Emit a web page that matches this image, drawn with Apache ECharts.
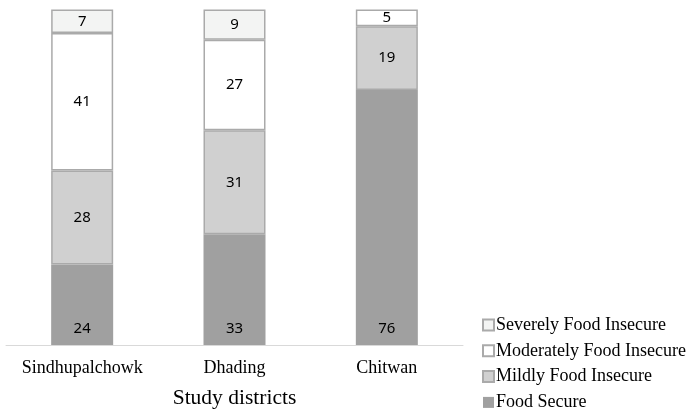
<!DOCTYPE html>
<html>
<head>
<meta charset="utf-8">
<script src="https://cdn.jsdelivr.net/npm/echarts@6/dist/echarts.min.js"></script>
<style>html,body{margin:0;padding:0;background:#fff}#c{width:687px;height:412px}</style>
</head>
<body>
<div id="c"></div>
<script>
const categories = ['Sindhupalchowk', 'Dhading', 'Chitwan'];
const foodSecure = [24, 33, 76];
const mildly = [28, 31, 19];
const moderately = [41, 27, 5];
const severely = [7, 9, 0];
const seriesNames = ['Food Secure', 'Mildly Food Insecure', 'Moderately Food Insecure', 'Severely Food Insecure'];

const chart = echarts.init(document.getElementById('c'));
const lbl = {
  show: true, position: 'inside', color: '#000',
  fontFamily: 'Noto Sans', fontSize: 15,
  formatter: p => (p.value ? p.value : '')
};
const clean = a => a.map(v => (v ? v : null));
chart.setOption({
  animation: false,
  grid: { left: 6, right: 224, top: 9.5, bottom: 67, containLabel: false, outerBoundsMode: 'none' },
  xAxis: {
    type: 'category', data: categories,
    axisLine: { lineStyle: { color: '#d9d9d9', width: 1 } },
    axisTick: { show: false },
    axisLabel: { color: '#000', fontFamily: 'Liberation Serif', fontSize: 18, margin: 14, interval: 0 },
    name: 'Study districts', nameLocation: 'middle', nameGap: 42,
    nameTextStyle: { color: '#000', fontFamily: 'Liberation Serif', fontSize: 21.5 }
  },
  yAxis: { type: 'value', min: 0, max: 100, show: false },
  legend: {
    orient: 'vertical', left: 482, top: 316, itemGap: 7.8, padding: 0,
    itemWidth: 11, itemHeight: 11, icon: 'rect',
    data: [seriesNames[3], seriesNames[2], seriesNames[1], seriesNames[0]],
    textStyle: { color: '#000', fontFamily: 'Liberation Serif', fontSize: 18, padding: [0, 0, 0, -3], lineHeight: 18 }
  },
  series: [
    { name: seriesNames[0], type: 'bar', stack: 's', barWidth: 62, data: clean(foodSecure),
      itemStyle: { color: '#a0a0a0', borderColor: '#a0a0a0', borderWidth: 0 },
      label: Object.assign({}, lbl, { position: 'insideBottom', distance: 9 }) },
    { name: seriesNames[1], type: 'bar', stack: 's', barWidth: 62, data: clean(mildly),
      itemStyle: { color: '#d0d0d0', borderColor: '#aaaaaa', borderWidth: 1.5 }, label: lbl },
    { name: seriesNames[2], type: 'bar', stack: 's', barWidth: 62, data: clean(moderately),
      itemStyle: { color: '#ffffff', borderColor: '#aaaaaa', borderWidth: 1.5 }, label: lbl },
    { name: seriesNames[3], type: 'bar', stack: 's', barWidth: 62, data: clean(severely),
      itemStyle: { color: '#f3f4f3', borderColor: '#aaaaaa', borderWidth: 1.5 }, label: lbl }
  ]
});
</script>
</body>
</html>
